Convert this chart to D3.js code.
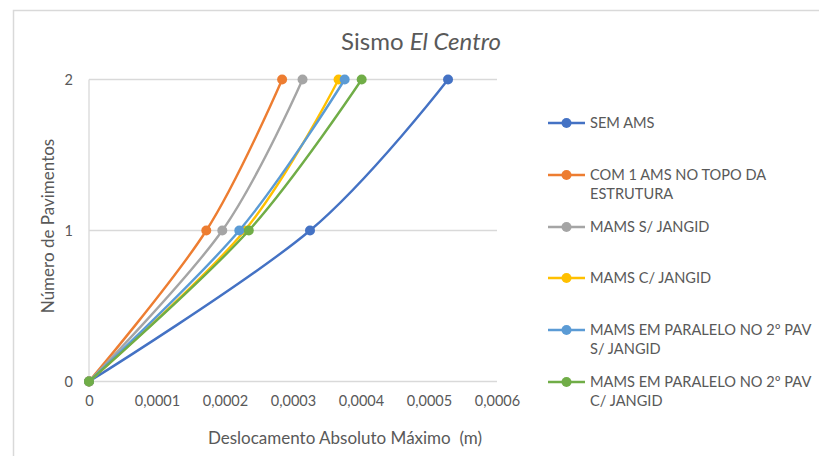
<!DOCTYPE html>
<html>
<head>
<meta charset="utf-8">
<script src="https://cdn.jsdelivr.net/npm/d3@7"></script>
<style>
  html, body { margin: 0; padding: 0; background: #fff; }
  svg { display: block; font-family: Lato, "Open Sans", sans-serif; }
</style>
</head>
<body>
<svg id="chart" width="819" height="456"></svg>
<script>
// Floors (y) and maximum absolute displacement per floor (x, metres)
const floors = [0, 1, 2];
const floorTicks = [0, 1, 2];
const dispTicks = [0, 0.0001, 0.0002, 0.0003, 0.0004, 0.0005, 0.0006];

const seriesNames = [
  ["SEM AMS"],
  ["COM 1 AMS NO TOPO DA", "ESTRUTURA"],
  ["MAMS S/ JANGID"],
  ["MAMS C/ JANGID"],
  ["MAMS EM PARALELO NO 2º PAV", "S/ JANGID"],
  ["MAMS EM PARALELO NO 2º PAV", "C/ JANGID"]
];
const semAms      = [0, 0.000325, 0.000528];
const com1Ams     = [0, 0.0001725, 0.000284];
const mamsSem     = [0, 0.000196, 0.000314];
const mamsCom     = [0, 0.000229, 0.000367];
const paraleloSem = [0, 0.000221, 0.000376];
const paraleloCom = [0, 0.000235, 0.000401];
const seriesValues = [semAms, com1Ams, mamsSem, mamsCom, paraleloSem, paraleloCom];
const colors = ["#4472C4", "#ED7D31", "#A5A5A5", "#FFC000", "#5B9BD5", "#70AD47"];

const svg = d3.select("#chart");
const textColor = "#595959";
const gridColor = "#D9D9D9";

// chart frame
svg.append("path")
  .attr("d", "M13.5,460 V10.5 H830")
  .attr("fill", "none")
  .attr("stroke", gridColor)
  .attr("stroke-width", 1.5);

const x = d3.scaleLinear().domain([0, 0.0006]).range([89, 497]);
const y = d3.scaleLinear().domain([0, 2]).range([381.5, 79.5]);

// horizontal gridlines
svg.append("g")
  .selectAll("line")
  .data(floorTicks)
  .join("line")
  .attr("x1", x(0)).attr("x2", x(0.0006))
  .attr("y1", d => y(d)).attr("y2", d => y(d))
  .attr("stroke", gridColor).attr("stroke-width", 1.3);

// vertical axis line
svg.append("line")
  .attr("x1", x(0)).attr("x2", x(0))
  .attr("y1", y(2)).attr("y2", y(0))
  .attr("stroke", gridColor).attr("stroke-width", 1.3);

// x axis tick labels
const xAxis = d3.axisBottom(x)
  .tickValues(dispTicks)
  .tickSize(0)
  .tickPadding(0)
  .tickFormat(d => d === 0 ? "0" : d3.format(".4f")(d).replace(".", ","));
const gx = svg.append("g").attr("transform", "translate(0,396)").call(xAxis);
gx.select(".domain").remove();
gx.selectAll("text")
  .attr("fill", textColor)
  .attr("font-size", 14.5)
  .attr("font-family", "Lato")
  .attr("dy", "0.71em");

// y axis tick labels
const yAxis = d3.axisLeft(y).tickValues(floorTicks).tickSize(0).tickPadding(0).tickFormat(d3.format("d"));
const gy = svg.append("g").attr("transform", "translate(73,0)").call(yAxis);
gy.select(".domain").remove();
gy.selectAll("text")
  .attr("fill", textColor)
  .attr("font-size", 14.5)
  .attr("font-family", "Lato");

// series lines and markers
const line = d3.line()
  .x(d => x(d[0]))
  .y(d => y(d[1]))
  .curve(d3.curveCatmullRom.alpha(0));

seriesValues.forEach((vals, i) => {
  const pts = vals.map((v, j) => [v, floors[j]]);
  const g = svg.append("g");
  g.append("path")
    .attr("d", line(pts))
    .attr("fill", "none")
    .attr("stroke", colors[i])
    .attr("stroke-width", 2.4)
    .attr("stroke-linecap", "round");
  g.selectAll("circle")
    .data(pts)
    .join("circle")
    .attr("cx", d => x(d[0]))
    .attr("cy", d => y(d[1]))
    .attr("r", 5)
    .attr("fill", colors[i]);
});

// title
const title = svg.append("text")
  .attr("x", 421).attr("y", 50)
  .attr("text-anchor", "middle")
  .attr("font-size", 24)
  .attr("fill", textColor);
title.append("tspan").text("Sismo ");
title.append("tspan").attr("font-style", "italic").text("El Centro");

// axis titles
svg.append("text")
  .attr("x", 345).attr("y", 444)
  .attr("text-anchor", "middle")
  .attr("font-size", 17)
  .attr("fill", textColor)
  .attr("xml:space", "preserve")
  .text("Deslocamento Absoluto Máximo  (m)");

svg.append("text")
  .attr("transform", "translate(54,226) rotate(-90)")
  .attr("text-anchor", "middle")
  .attr("font-size", 17)
  .attr("fill", textColor)
  .text("Número de Pavimentos");

// legend
const legendRows = [123, 175, 227, 278, 330, 382];
const legend = svg.append("g");
seriesNames.forEach((lines, i) => {
  const ly = legendRows[i];
  legend.append("line")
    .attr("x1", 548).attr("x2", 585)
    .attr("y1", ly).attr("y2", ly)
    .attr("stroke", colors[i]).attr("stroke-width", 2.4);
  legend.append("circle")
    .attr("cx", 566.5).attr("cy", ly).attr("r", 5)
    .attr("fill", colors[i]);
  const t = legend.append("text")
    .attr("x", 590).attr("y", ly + 5)
    .attr("font-size", 14.6)
    .attr("fill", textColor);
  lines.forEach((s, k) => {
    t.append("tspan").attr("x", 590).attr("dy", k === 0 ? 0 : 19).text(s);
  });
});
</script>
</body>
</html>
